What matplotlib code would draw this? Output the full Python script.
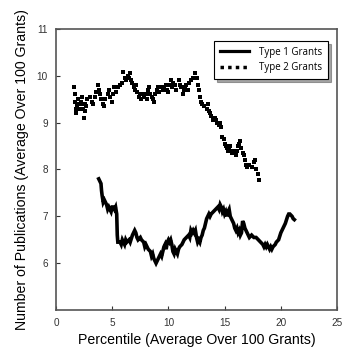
import matplotlib
matplotlib.use("Agg")
import matplotlib.pyplot as plt
from matplotlib.lines import Line2D

# Type 1 grants (solid line)
t1_x = [3.8,3.9,4.0,4.05,4.1,4.2,4.3,4.4,4.5,4.6,4.7,4.8,4.9,5.0,5.1,5.2,5.3,5.4,5.45,5.5,5.7,5.8,5.9,6.0,6.1,6.2,6.3,6.5,6.6,6.8,6.9,7.0,7.1,7.2,7.3,7.5,7.6,7.8,7.9,8.0,8.2,8.4,8.5,8.6,8.7,8.8,8.9,9.0,9.1,9.2,9.3,9.4,9.5,9.6,9.7,9.8,9.9,10.0,10.1,10.2,10.3,10.4,10.5,10.6,10.7,10.8,10.9,11.0,11.2,11.4,11.6,11.8,11.9,12.0,12.1,12.2,12.3,12.4,12.5,12.6,12.7,12.8,12.9,13.0,13.1,13.2,13.3,13.4,13.5,13.6,13.7,13.8,14.0,14.2,14.4,14.5,14.6,14.7,14.8,14.9,15.0,15.1,15.2,15.3,15.4,15.5,15.6,15.7,15.8,15.9,16.0,16.1,16.2,16.3,16.4,16.5,16.6,16.7,16.8,16.9,17.0,17.1,17.2,17.4,17.6,17.8,18.0,18.2,18.4,18.5,18.6,18.7,18.8,19.0,19.1,19.2,19.3,19.5,19.6,19.8,20.0,20.1,20.2,20.4,20.6,20.7,20.8,21.0,21.1,21.2]
t1_y = [7.8,7.75,7.7,7.55,7.45,7.3,7.35,7.3,7.25,7.15,7.2,7.15,7.1,7.2,7.2,7.15,7.2,7.05,6.6,6.45,6.45,6.4,6.5,6.45,6.4,6.5,6.45,6.5,6.45,6.6,6.65,6.7,6.65,6.55,6.5,6.55,6.5,6.45,6.35,6.4,6.3,6.25,6.15,6.2,6.1,6.05,6.0,6.05,6.1,6.15,6.2,6.15,6.25,6.35,6.4,6.3,6.45,6.5,6.45,6.5,6.4,6.25,6.2,6.3,6.25,6.2,6.3,6.35,6.4,6.5,6.55,6.6,6.55,6.7,6.65,6.7,6.65,6.7,6.55,6.45,6.5,6.45,6.55,6.6,6.7,6.75,6.85,6.95,7.0,7.05,7.0,7.05,7.1,7.15,7.2,7.15,7.25,7.2,7.1,7.15,7.05,7.1,7.0,7.1,7.15,7.0,6.95,6.9,6.85,6.75,6.7,6.75,6.65,6.7,6.6,6.65,6.9,6.85,6.75,6.7,6.65,6.6,6.55,6.6,6.55,6.55,6.5,6.45,6.4,6.35,6.4,6.35,6.4,6.3,6.35,6.3,6.35,6.4,6.45,6.5,6.65,6.7,6.75,6.85,7.0,7.05,7.05,7.0,6.95,6.93]

# Type 2 grants (dotted points)
t2_x = [1.6,1.65,1.7,1.75,1.8,1.9,2.0,2.05,2.1,2.2,2.3,2.35,2.4,2.5,2.55,2.6,2.7,2.8,3.0,3.2,3.3,3.5,3.6,3.7,3.8,3.9,4.0,4.2,4.3,4.4,4.6,4.7,4.8,5.0,5.1,5.2,5.3,5.5,5.7,5.9,6.0,6.1,6.2,6.4,6.5,6.6,6.7,6.8,6.9,7.0,7.1,7.2,7.4,7.5,7.6,7.7,7.8,8.0,8.1,8.2,8.3,8.4,8.5,8.6,8.7,8.8,9.0,9.1,9.2,9.4,9.5,9.6,9.8,9.9,10.0,10.1,10.2,10.3,10.4,10.6,10.7,10.9,11.0,11.1,11.3,11.4,11.5,11.6,11.7,11.8,12.0,12.2,12.4,12.5,12.6,12.7,12.8,12.9,13.0,13.2,13.4,13.5,13.6,13.7,13.8,14.0,14.1,14.2,14.3,14.5,14.6,14.7,14.8,14.9,15.0,15.1,15.2,15.3,15.4,15.5,15.6,15.7,15.8,16.0,16.1,16.2,16.3,16.4,16.5,16.6,16.7,16.8,16.9,17.0,17.2,17.4,17.6,17.7,17.8,18.0,18.1]
t2_y = [9.75,9.6,9.45,9.3,9.2,9.35,9.5,9.4,9.3,9.45,9.55,9.4,9.3,9.1,9.25,9.4,9.35,9.5,9.55,9.45,9.4,9.55,9.65,9.8,9.7,9.6,9.5,9.4,9.35,9.5,9.6,9.7,9.55,9.45,9.6,9.75,9.65,9.75,9.8,9.85,10.08,9.95,9.9,10.0,9.95,10.05,9.9,9.85,9.75,9.7,9.8,9.65,9.55,9.6,9.5,9.6,9.55,9.6,9.5,9.7,9.75,9.6,9.55,9.5,9.45,9.6,9.7,9.75,9.65,9.75,9.7,9.75,9.8,9.7,9.65,9.8,9.9,9.75,9.85,9.8,9.7,9.9,9.8,9.75,9.6,9.7,9.75,9.8,9.7,9.85,9.9,9.95,10.05,9.95,9.8,9.7,9.55,9.45,9.4,9.35,9.3,9.4,9.25,9.2,9.15,9.05,9.1,9.05,9.0,8.95,9.0,8.9,8.7,8.65,8.55,8.5,8.45,8.4,8.45,8.5,8.4,8.35,8.4,8.3,8.4,8.5,8.55,8.6,8.45,8.35,8.3,8.2,8.1,8.05,8.1,8.05,8.15,8.2,8.0,7.9,7.78]

labels = ["Type 1 Grants", "Type 2 Grants"]
x_ticks = [0, 5, 10, 15, 20, 25]
y_ticks = [6, 7, 8, 9, 10, 11]

fig = plt.figure(figsize=(3.5, 3.52), dpi=100)
ax = fig.add_axes([0.16, 0.119, 0.803, 0.799])

ax.plot(t1_x, t1_y, color="black", lw=2.6, solid_joinstyle="miter")
ax.plot(t2_x, t2_y, linestyle="none", marker="s", ms=2.4, color="black", mew=0)

ax.set_xlim(0, 25)
ax.set_ylim(5, 11)
ax.set_xticks(x_ticks)
ax.set_yticks(y_ticks)
ax.tick_params(direction="in", length=3, width=0.8, labelsize=7.2, colors="#333333",
               top=False, right=False, pad=6)
for s in ax.spines.values():
    s.set_color("#555555")
    s.set_linewidth(1.2)

ax.set_xlabel("Percentile (Average Over 100 Grants)", fontsize=10.2, family="Liberation Sans", labelpad=3)
ax.set_ylabel("Number of Publications (Average Over 100 Grants)", fontsize=10.2, family="Liberation Sans", labelpad=5)
for lab in ax.get_xticklabels() + ax.get_yticklabels():
    lab.set_family("Liberation Sans")

handles = [Line2D([0], [0], color="black", lw=2.3),
           Line2D([0], [0], color="black", lw=2.5, linestyle=(0, (1, 1.2)))]
leg = ax.legend(handles, labels, loc="upper right", bbox_to_anchor=(0.985, 0.975),
                frameon=True, fancybox=False, shadow=True, handlelength=3.0,
                borderpad=0.6, labelspacing=0.5, handletextpad=1.0,
                prop={"family": "Open Sans", "size": 7})
leg.get_frame().set_edgecolor("black")
leg.get_frame().set_linewidth(0.8)

fig.savefig("out.png", dpi=100)
